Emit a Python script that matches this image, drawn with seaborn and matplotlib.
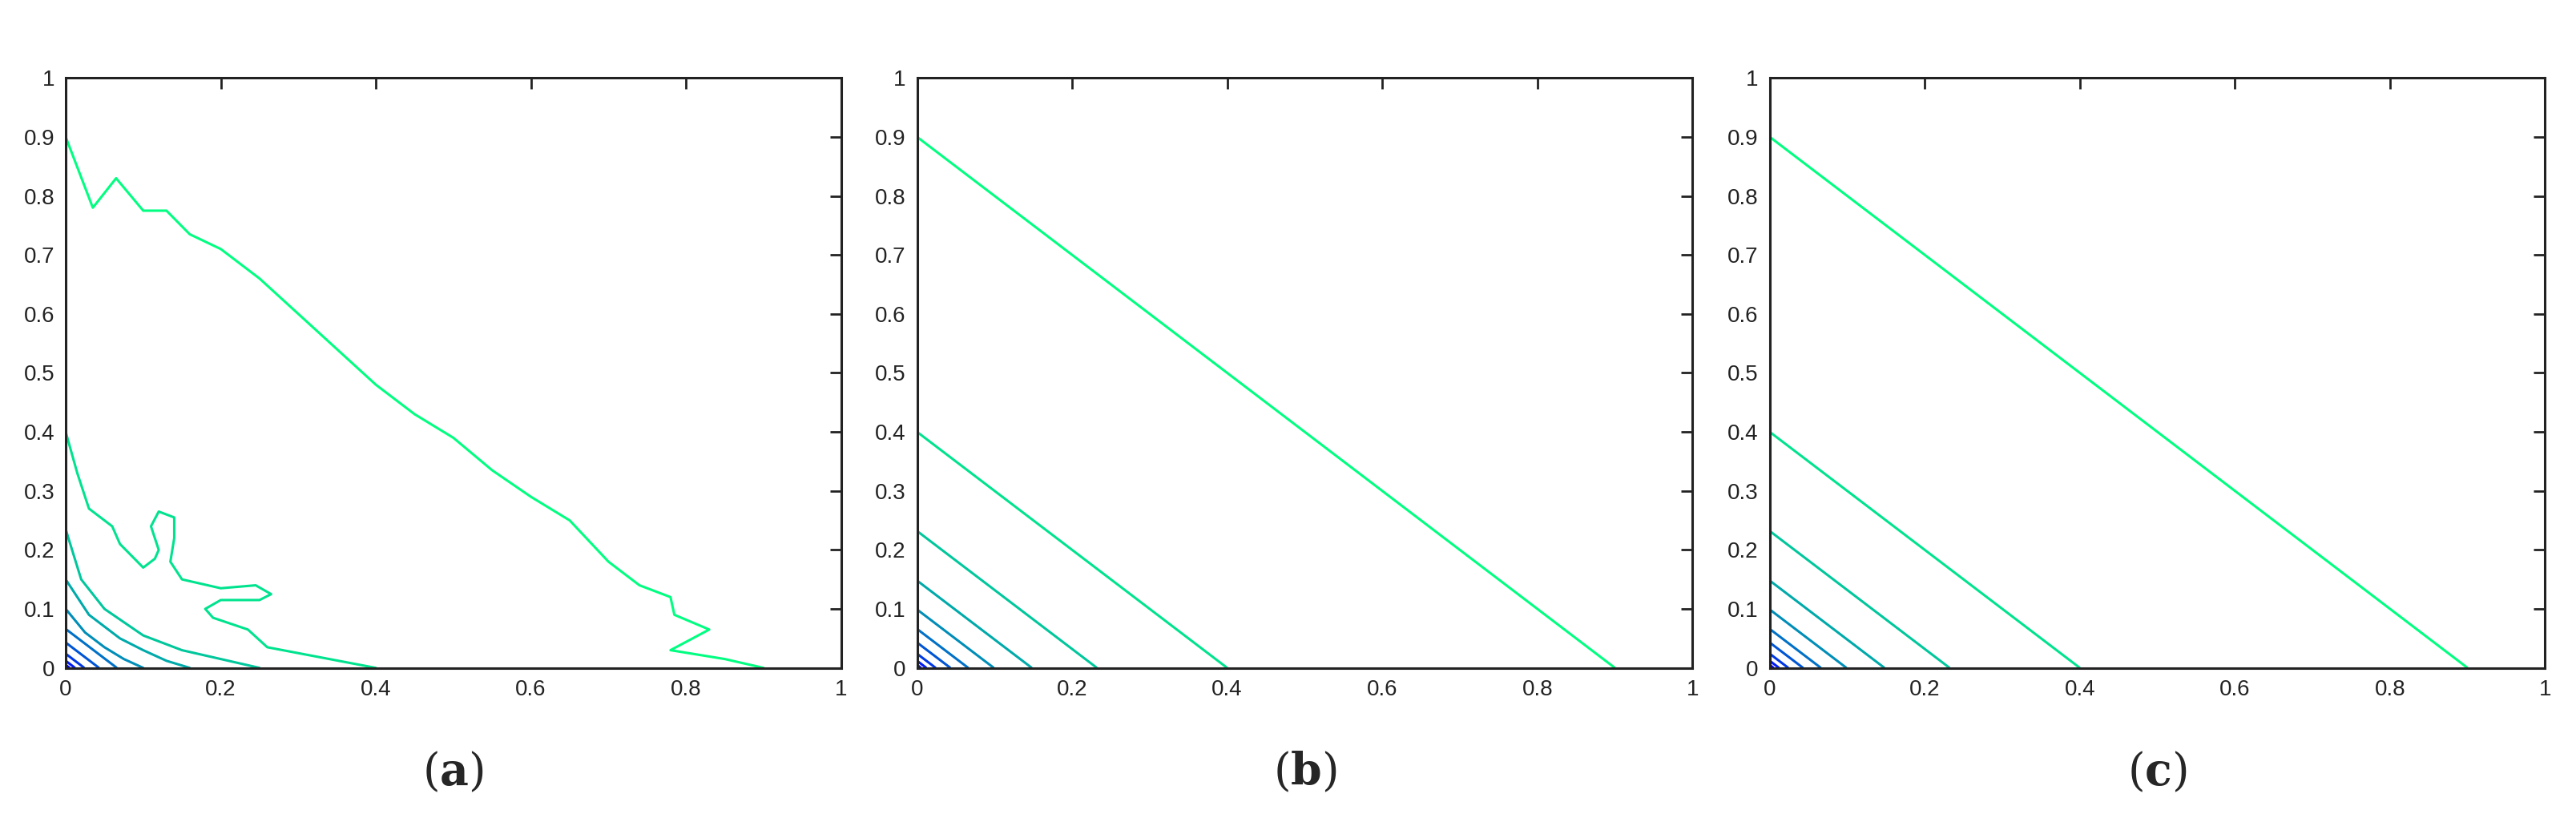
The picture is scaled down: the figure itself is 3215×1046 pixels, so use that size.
import numpy as np
import matplotlib
matplotlib.use("Agg")
import matplotlib.pyplot as plt
import seaborn as sns

sns.set_theme(style="white")
plt.rcParams['font.family'] = ['Liberation Sans', 'DejaVu Sans']
plt.rcParams['mathtext.fontset'] = 'dejavuserif'

levels = [0.005, 0.012, 0.024, 0.043, 0.066, 0.099, 0.148, 0.232, 0.4, 0.9]
cmap = plt.get_cmap('winter')
colors = [cmap(i / (len(levels) - 1)) for i in range(len(levels))]

# panel (a): contour lines
a_09_x = [0, 0.035, 0.065, 0.1, 0.13, 0.16, 0.2, 0.25, 0.3, 0.35, 0.4, 0.45, 0.5, 0.55, 0.6, 0.65, 0.7, 0.74, 0.78, 0.785, 0.83, 0.78, 0.85, 0.9]
a_09_y = [0.9, 0.78, 0.83, 0.775, 0.775, 0.735, 0.71, 0.66, 0.6, 0.54, 0.48, 0.43, 0.39, 0.335, 0.29, 0.25, 0.18, 0.14, 0.12, 0.09, 0.065, 0.03, 0.015, 0.0]
a_04_x = [0, 0.015, 0.03, 0.06, 0.07, 0.1, 0.115, 0.12, 0.11, 0.12, 0.14, 0.14, 0.135, 0.15, 0.2, 0.245, 0.265, 0.25, 0.2, 0.18, 0.19, 0.235, 0.26, 0.3, 0.4]
a_04_y = [0.4, 0.33, 0.27, 0.24, 0.21, 0.17, 0.185, 0.2, 0.24, 0.265, 0.255, 0.22, 0.18, 0.15, 0.135, 0.14, 0.125, 0.115, 0.115, 0.1, 0.085, 0.065, 0.035, 0.025, 0.0]
a_023_x = [0, 0.02, 0.05, 0.1, 0.15, 0.2, 0.25]
a_023_y = [0.235, 0.15, 0.1, 0.055, 0.03, 0.015, 0.0]
a_015_x = [0, 0.03, 0.07, 0.1, 0.13, 0.16]
a_015_y = [0.15, 0.09, 0.05, 0.03, 0.012, 0.0]
a_010_x = [0, 0.025, 0.05, 0.075, 0.1]
a_010_y = [0.1, 0.06, 0.035, 0.015, 0.0]
a_small_levels = [0.005, 0.012, 0.024, 0.043, 0.066]

ticks = [0, 0.1, 0.2, 0.3, 0.4, 0.5, 0.6, 0.7, 0.8, 0.9, 1]
xticks = [0, 0.2, 0.4, 0.6, 0.8, 1]
tick_lbl = lambda v: '0' if v == 0 else ('1' if v == 1 else f'{v:g}')

fig = plt.figure(figsize=(32.15, 10.46), dpi=100)
lefts = [0.0255, 0.356, 0.687]
axes = [fig.add_axes([l, 0.203, 0.301, 0.704]) for l in lefts]

g = np.linspace(0, 1, 401)
X, Y = np.meshgrid(g, g)
Z = X + Y

ax = axes[0]
for xs, ys, c in [(a_09_x, a_09_y, colors[9]), (a_04_x, a_04_y, colors[8]),
                  (a_023_x, a_023_y, colors[7]), (a_015_x, a_015_y, colors[6]),
                  (a_010_x, a_010_y, colors[5])]:
    ax.plot(xs, ys, color=c, lw=2.2)
ax.contour(X, Y, Z, levels=a_small_levels, colors=colors[:5], linewidths=2.2)

for ax in axes[1:]:
    ax.contour(X, Y, Z, levels=levels, colors=colors, linewidths=2.2)

for ax, lab in zip(axes, 'abc'):
    ax.set_xlim(0, 1)
    ax.set_ylim(0, 1)
    ax.set_xticks(xticks)
    ax.set_xticklabels([tick_lbl(v) for v in xticks])
    ax.set_yticks(ticks)
    ax.set_yticklabels([tick_lbl(v) for v in ticks])
    ax.tick_params(direction='in', length=10, width=2, labelsize=20, color='#222222',
                   labelcolor='#222222', top=True, right=True, pad=10)
    for s in ax.spines.values():
        s.set_color('#222222')
        s.set_linewidth(2.2)
    ax.grid(False)
    ax.text(0.5, -0.14, '(' + r'$\mathbf{' + lab + '}$' + ')', transform=ax.transAxes,
            ha='center', va='top', fontsize=40, family='DejaVu Serif')

fig.savefig('out.png', dpi=100, facecolor='white')
